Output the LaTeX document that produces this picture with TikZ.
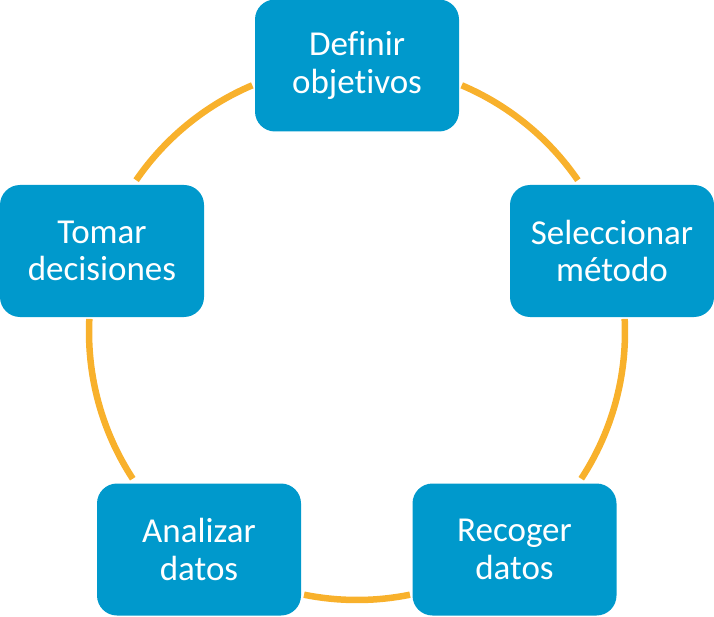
\documentclass[tikz,border=0pt]{standalone}
\usepackage{fontspec}
\setmainfont{Carlito}[Ligatures={NoCommon}]
\definecolor{boxblue}{HTML}{0099CC}
\definecolor{ringorange}{HTML}{F8B12C}
\begin{document}
\begin{tikzpicture}[x=1pt,y=-1pt,
  stepbox/.style={fill=boxblue, rounded corners=20pt, minimum width=204pt, minimum height=132pt,
    text=white, align=center, inner sep=0pt, font=\fontsize{35}{37.6}\selectfont},
  ring/.style={draw=ringorange, line width=6.5pt}]
\useasboundingbox (0,0) rectangle (714,617);
\coordinate (c) at (357,332);
\node[stepbox] (def) at (357,65.5) {Definir\\objetivos};
\node[stepbox] (sel) at (612,251) {Seleccionar\\método};
\node[stepbox] (rec) at (514.5,549.5) {Recoger\\datos};
\node[stepbox] (ana) at (199,549.5) {Analizar\\datos};
\node[stepbox] (tom) at (102,251) {Tomar\\decisiones};
\begin{scope}[y=1pt]
\draw[ring] ([shift={(67:268)}]c) arc (67:34.5:268);
\draw[ring] ([shift={(2.8:268)}]c) arc (2.8:-33.2:268);
\draw[ring] ([shift={(-78.6:268)}]c) arc (-78.6:-101.4:268);
\draw[ring] ([shift={(213.2:268)}]c) arc (213.2:177.2:268);
\draw[ring] ([shift={(145.5:268)}]c) arc (145.5:113:268);
\end{scope}
\end{tikzpicture}
\end{document}
